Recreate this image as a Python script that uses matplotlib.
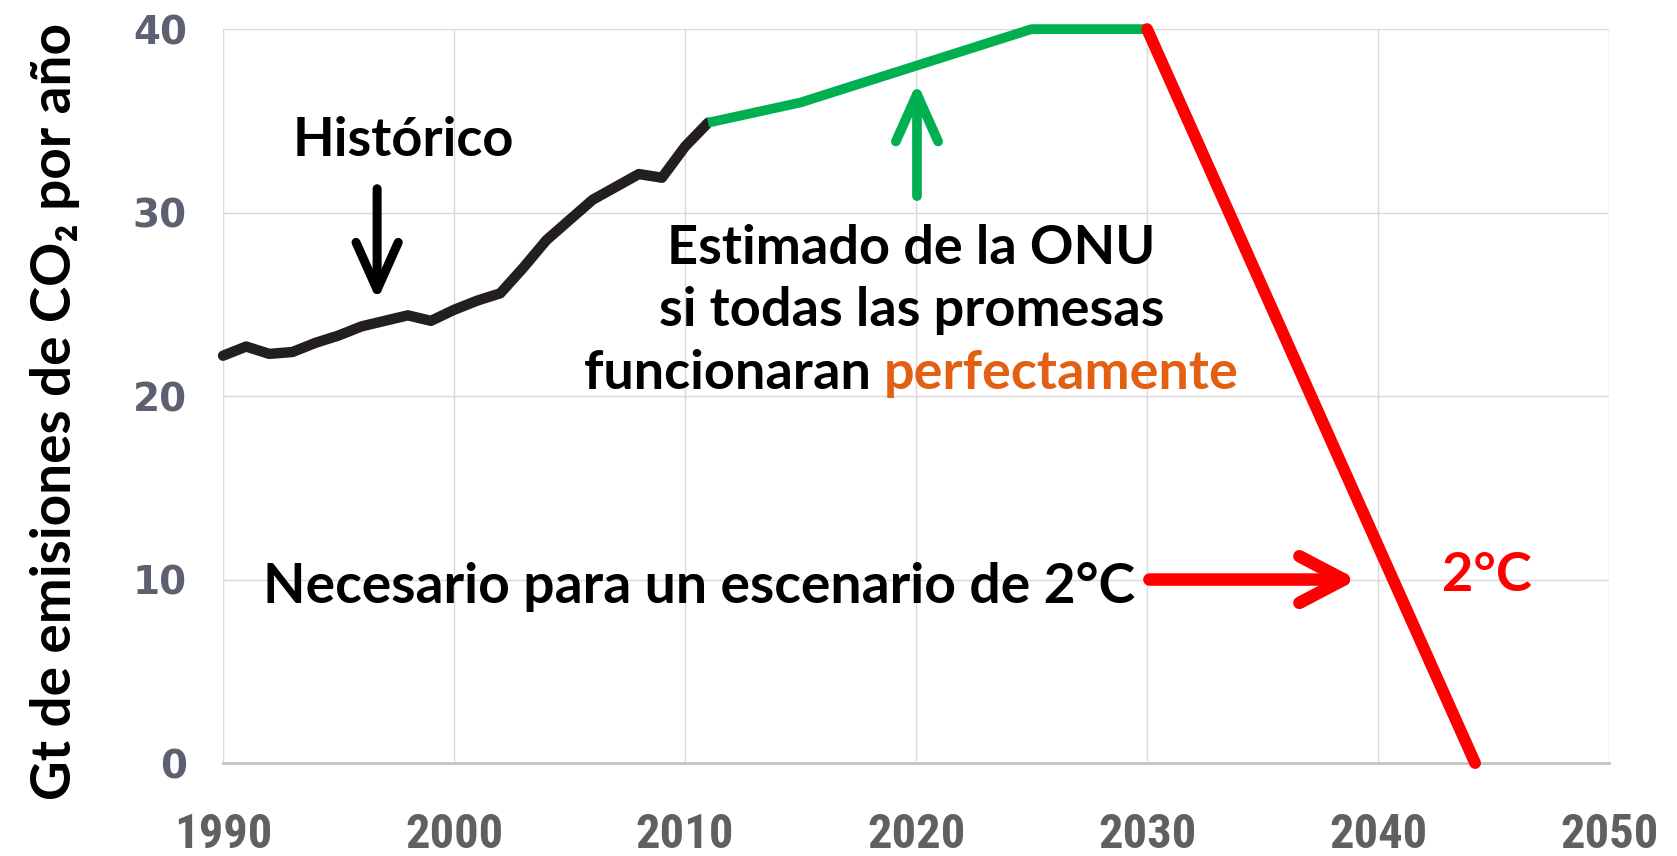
import matplotlib
matplotlib.use("Agg")
import matplotlib.pyplot as plt

# ---------------- data ----------------
hist_years = list(range(1990, 2012))
hist_values = [22.2, 22.7, 22.3, 22.4, 22.9, 23.3, 23.8, 24.1, 24.4, 24.1,
               24.7, 25.2, 25.6, 27.0, 28.5, 29.6, 30.7, 31.4, 32.1, 31.9,
               33.6, 34.9]
pledge_years = [2011, 2015, 2020, 2025, 2030]
pledge_values = [34.9, 36.0, 38.0, 40.0, 40.0]
two_deg_years = [2030, 2044.2]
two_deg_values = [40.0, 0.0]

x_ticks = [1990, 2000, 2010, 2020, 2030, 2040, 2050]
y_ticks = [0, 10, 20, 30, 40]

# ---------------- style ----------------
BLACK = "#231f20"
GREEN = "#00b050"
RED = "#ff0000"
ORANGE = "#e35f12"
TICK_GRAY = "#606060"
FONT = ["Lato", "DejaVu Sans"]

fig = plt.figure(figsize=(16.77, 8.56), dpi=100)
ax = fig.add_axes([0.133, 0.1086, 0.8265, 0.8574])

ax.plot(hist_years, hist_values, color=BLACK, lw=7.5, solid_capstyle="round",
        solid_joinstyle="round", clip_on=False, zorder=3)
ax.plot(pledge_years, pledge_values, color=GREEN, lw=7, solid_capstyle="butt",
        solid_joinstyle="round", clip_on=False, zorder=3)
ax.plot(two_deg_years, two_deg_values, color=RED, lw=8.5, solid_capstyle="round",
        solid_joinstyle="round", clip_on=False, zorder=4)

ax.set_xlim(1990, 2050)
ax.set_ylim(0, 40)
ax.set_xticks(x_ticks)
ax.set_yticks(y_ticks)
ax.grid(True, color="#d9d9d9", lw=1.0)
ax.set_axisbelow(True)
for s in ["top", "right", "left"]:
    ax.spines[s].set_visible(False)
ax.spines["bottom"].set_color("#c4c4c4")
ax.spines["bottom"].set_linewidth(2)

ax.tick_params(axis="both", length=0)
ax.tick_params(axis="y", pad=26)
ax.tick_params(axis="x", pad=35)
for lab in ax.get_yticklabels():
    lab.set_fontfamily("DejaVu Sans")
    lab.set_fontweight("bold")
    lab.set_fontsize(28)
    lab.set_color("#5c6070")
for lab in ax.get_xticklabels():
    lab.set_fontfamily(["Liberation Sans Narrow", "Roboto Condensed", "DejaVu Sans"])
    lab.set_fontstretch("condensed")
    lab.set_fontweight("bold")
    lab.set_fontsize(35)
    lab.set_color(TICK_GRAY)

fig.text(0.033, 0.5187, "Gt de emisiones de CO\u2082 por año", rotation=90,
         ha="center", va="center", fontsize=39.5, fontweight="bold",
         family=FONT, color="black")

txt = dict(fontsize=39, fontweight="bold", family=FONT)

# Historic label and arrow
ax.text(1997.8, 33.1, "Histórico", ha="center", va="baseline", color="black", **txt)
ax.annotate("", xy=(1996.67, 25.2), xytext=(1996.67, 31.3),
            arrowprops=dict(arrowstyle="->,head_length=0.85,head_width=0.38",
                            lw=6.5, color="black", mutation_scale=40,
                            shrinkA=0, shrinkB=0))

# Pledge label and arrow
ax.annotate("", xy=(2020.04, 37.1), xytext=(2020.04, 30.9),
            arrowprops=dict(arrowstyle="->,head_length=0.85,head_width=0.38",
                            lw=7, color=GREEN, mutation_scale=40,
                            shrinkA=0, shrinkB=0))
xc = 2019.8
ax.text(xc, 27.2, "Estimado de la ONU", ha="center", va="baseline", color="black", **txt)
ax.text(xc, 23.8, "si todas las promesas", ha="center", va="baseline", color="black", **txt)
t1 = ax.text(xc, 20.4, "funcionaran ", ha="left", va="baseline", color="black", **txt)
t2 = ax.annotate("perfectamente", xy=(1, 0), xycoords=t1, ha="left", va="bottom",
                 color=ORANGE, **txt)

# 2 °C label and arrow
ax.text(1991.75, 8.72, "Necesario para un escenario de 2°C", ha="left", va="baseline",
        color="black", fontsize=39.8, fontweight="bold", family=FONT)
ax.annotate("", xy=(2039.1, 10.0), xytext=(2030.1, 10.0),
            arrowprops=dict(arrowstyle="->,head_length=0.8,head_width=0.42",
                            lw=9, color=RED, mutation_scale=40,
                            shrinkA=0, shrinkB=0))
ax.text(2044.7, 9.4, "2°C", ha="center", va="baseline", color=RED, **txt)

# centre the two-colour third line
fig.canvas.draw()
r = fig.canvas.get_renderer()
b1 = t1.get_window_extent(r)
b2 = t2.get_window_extent(r)
total = b2.x1 - b1.x0
cx = ax.transData.transform((xc, 20.4))[0]
new_x = ax.transData.inverted().transform((cx - total / 2, 0))[0]
t1.set_x(new_x)

fig.savefig("out.png", dpi=100, facecolor="white")
